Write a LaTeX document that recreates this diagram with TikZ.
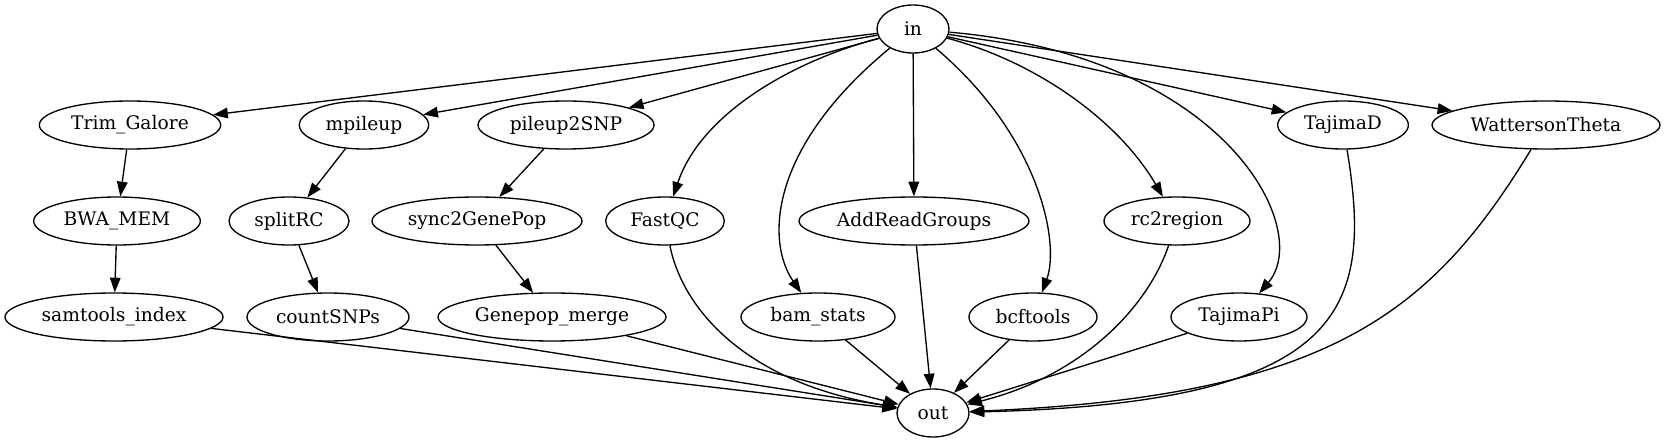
\documentclass[tikz,border=0pt]{standalone}
\usepackage{fontspec}
\setmainfont{DejaVu Serif}
\usetikzlibrary{arrows.meta, shapes.geometric}

\begin{document}
\begin{tikzpicture}[%
        x=1pt, y=1pt,
        every node/.style={ellipse, draw, minimum height=36pt, inner sep=1pt,
            font=\fontsize{14}{16}\selectfont},
        line width=1pt,
        >={Triangle[length=11pt, width=8pt]}
    ]
    \useasboundingbox (0,0) rectangle (1248.75,332.25);

    % --- Source and sink ---
    \node[minimum width=54pt] (in) at (684.75,310.5) {in};
    \node[minimum width=54pt] (out) at (699.75,22.5) {out};

    % --- First rank ---
    \node[minimum width=136pt] (trim) at (97.5,238.5) {Trim\_Galore};
    \node[minimum width=97pt] (mpileup) at (273,238.5) {mpileup};
    \node[minimum width=132pt] (pileup) at (424.5,238.5) {pileup2SNP};
    \node[minimum width=98pt] (tajd) at (1007.25,238.5) {TajimaD};
    \node[minimum width=171pt] (watt) at (1159.5,238.5) {WattersonTheta};

    % --- Second rank ---
    \node[minimum width=125pt] (bwa) at (87.75,166.5) {BWA\_MEM};
    \node[minimum width=90pt] (splitrc) at (216.75,166.5) {splitRC};
    \node[minimum width=157.5pt] (sync) at (357.75,166.5) {sync2GenePop};
    \node[minimum width=89pt] (fastqc) at (498.75,166.5) {FastQC};
    \node[minimum width=172.5pt] (addrg) at (685.5,166.5) {AddReadGroups};
    \node[minimum width=109.5pt] (rcregion) at (882.75,166.5) {rc2region};

    % --- Third rank ---
    \node[minimum width=163.5pt] (samidx) at (85.5,94.5) {samtools\_index};
    \node[minimum width=121.5pt] (countsnps) at (246,94.5) {countSNPs};
    \node[minimum width=171pt] (merge) at (414,94.5) {Genepop\_merge};
    \node[minimum width=115.5pt] (bamstats) at (613.5,94.5) {bam\_stats};
    \node[minimum width=96pt] (bcftools) at (774.75,94.5) {bcftools};
    \node[minimum width=102pt] (tajpi) at (929.25,94.5) {TajimaPi};

    % --- Edges from in ---
    \draw[->] (in) -- (trim);
    \draw[->] (in) -- (mpileup);
    \draw[->] (in) -- (pileup);
    \draw[->] (in) .. controls (590,285) and (525,245) .. (fastqc);
    \draw[->] (in) .. controls (575,220) and (575,150) .. (bamstats);
    \draw[->] (in) -- (addrg);
    \draw[->] (in) .. controls (780,230) and (795,150) .. (bcftools);
    \draw[->] (in) .. controls (780,285) and (840,240) .. (rcregion);
    \draw[->] (in) .. controls (920,290) and (985,160) .. (tajpi);
    \draw[->] (in) -- (tajd);
    \draw[->] (in) -- (watt);

    % --- Chains ---
    \draw[->] (trim) -- (bwa);
    \draw[->] (bwa) -- (samidx);
    \draw[->] (mpileup) -- (splitrc);
    \draw[->] (splitrc) -- (countsnps);
    \draw[->] (pileup) -- (sync);
    \draw[->] (sync) -- (merge);

    % --- Edges into out ---
    \draw[->] (samidx) -- (out);
    \draw[->] (countsnps) -- (out);
    \draw[->] (merge) -- (out);
    \draw[->] (fastqc) .. controls (512,100) and (560,45) .. (out);
    \draw[->] (bamstats) -- (out);
    \draw[->] (addrg) -- (out);
    \draw[->] (bcftools) -- (out);
    \draw[->] (rcregion) .. controls (860,100) and (810,50) .. (out);
    \draw[->] (tajpi) -- (out);
    \draw[->] (tajd) .. controls (1030,100) and (1010,30) .. (out);
    \draw[->] (watt) .. controls (1075,100) and (1000,35) .. (out);
\end{tikzpicture}
\end{document}
